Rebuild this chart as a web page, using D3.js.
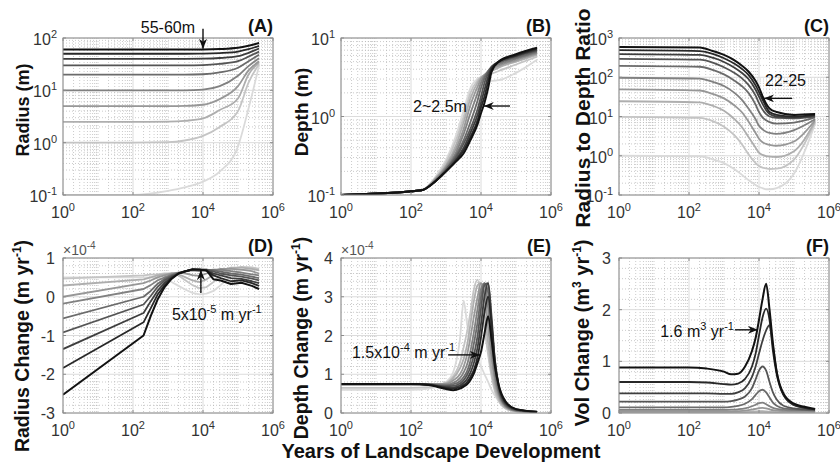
<!DOCTYPE html>
<html>
<head>
<meta charset="utf-8">
<script src="https://cdn.jsdelivr.net/npm/d3@7"></script>
<style>
  body { margin: 0; background: #fff; }
  text { font-family: "Liberation Sans", Arial, Helvetica, sans-serif; }
</style>
</head>
<body>
<svg id="chart" width="840" height="467"></svg>
<script>
// ---------------- data (series ordered from smallest initial radius to largest) ----------------
var radii = [0.1, 1, 2.5, 5, 10, 20, 30, 40, 50, 60];

// (A) radius, m
var yearsA = [1, 100, 1000, 3000, 10000, 30000, 100000, 200000, 400000];
var radiusA = [
  [0.1, 0.1, 0.12, 0.14, 0.18, 0.28, 0.85, 4.5, 30],
  [1, 1, 1.02, 1.1, 1.35, 2, 4, 14, 32],
  [2.5, 2.5, 2.52, 2.6, 2.9, 4.2, 7, 20, 34],
  [5, 5, 5, 5.05, 5.3, 6.8, 12, 24, 36],
  [10, 10, 10, 10, 10.3, 12, 19, 29, 41],
  [20, 20, 20, 20, 20.3, 22, 27, 36, 48],
  [30, 30, 30, 30, 30.3, 32, 36, 44, 55],
  [40, 40, 40, 40, 40.3, 41.5, 45, 52, 63],
  [50, 50, 50, 50, 50.3, 51.5, 55, 61, 71],
  [60, 60, 60, 60, 60.3, 61.5, 65, 71, 80]
];

// (B) depth, m
var yearsB = [1, 200, 500, 1000, 2000, 3200, 5000, 8000, 10000, 12600, 16000, 20000, 32000, 100000, 400000];
var depthB = [
  [0.1, 0.115, 0.17, 0.28, 0.6, 1.2, 2.3, 3.0, 3.1, 3.0, 2.9, 2.85, 2.9, 3.6, 5.3],
  [0.1, 0.115, 0.165, 0.26, 0.52, 1.0, 2.0, 2.9, 3.2, 3.3, 3.4, 3.5, 3.8, 4.6, 5.8],
  [0.1, 0.115, 0.16, 0.24, 0.45, 0.85, 1.7, 2.7, 3.1, 3.4, 3.6, 3.8, 4.2, 5.0, 6.1],
  [0.1, 0.115, 0.16, 0.23, 0.4, 0.7, 1.4, 2.4, 3.0, 3.4, 3.7, 4.0, 4.4, 5.2, 6.3],
  [0.1, 0.115, 0.155, 0.22, 0.36, 0.6, 1.1, 2.0, 2.7, 3.3, 3.8, 4.2, 4.6, 5.4, 6.5],
  [0.1, 0.115, 0.15, 0.21, 0.33, 0.5, 0.85, 1.6, 2.3, 3.1, 3.8, 4.3, 4.8, 5.6, 6.7],
  [0.1, 0.115, 0.15, 0.21, 0.31, 0.45, 0.7, 1.25, 1.8, 2.7, 3.6, 4.3, 4.9, 5.8, 6.9],
  [0.1, 0.115, 0.15, 0.2, 0.29, 0.4, 0.62, 1.05, 1.5, 2.2, 3.2, 4.2, 5.0, 5.9, 7.1],
  [0.1, 0.115, 0.15, 0.2, 0.28, 0.37, 0.55, 0.9, 1.3, 1.8, 2.8, 4.0, 5.0, 6.0, 7.3],
  [0.1, 0.115, 0.15, 0.2, 0.27, 0.34, 0.5, 0.8, 1.1, 1.5, 2.3, 3.7, 5.0, 6.2, 7.5]
];

// (C) radius to depth ratio
var yearsC = [1, 200, 500, 1000, 2000, 3200, 5000, 8000, 10000, 12600, 16000, 20000, 32000, 100000, 400000];
var ratioC = [
  [1.0, 0.97, 0.8, 0.65, 0.45, 0.33, 0.24, 0.18, 0.16, 0.15, 0.14, 0.14, 0.15, 0.35, 6.5],
  [9.8, 9.2, 7.5, 5.5, 3.3, 2.0, 1.1, 0.65, 0.55, 0.5, 0.48, 0.46, 0.47, 0.8, 7],
  [24.5, 23, 18.5, 14, 8.5, 5.5, 3.0, 1.6, 1.2, 1.05, 0.98, 0.95, 0.93, 1.3, 7.5],
  [49, 46, 37, 29, 19, 13, 7.5, 3.8, 2.7, 2.2, 2.0, 1.9, 1.8, 2.3, 8],
  [97, 92, 75, 60, 40, 27, 16, 8.5, 5.8, 4.7, 4.1, 3.8, 3.6, 4.5, 8.5],
  [195, 185, 152, 118, 82, 60, 40, 20, 13, 9.5, 8, 7.2, 6.6, 7, 9.5],
  [295, 280, 232, 180, 128, 95, 64, 34, 22, 15, 11.5, 10, 9.2, 9, 10],
  [390, 370, 310, 245, 175, 130, 90, 48, 32, 21, 14.5, 11.5, 10, 9.5, 10.5],
  [490, 465, 390, 305, 220, 165, 115, 62, 42, 27, 17.5, 13, 11, 10, 11],
  [590, 570, 460, 370, 270, 200, 140, 80, 55, 33, 21, 16, 13, 11, 11.5]
];

// (D) radius change, x 1e-4 m/yr
var yearsD = [1, 200, 320, 500, 800, 1260, 2000, 3200, 5000, 8000, 12600, 20000, 32000, 63000, 126000, 250000, 400000];
var radiusRateD = [
  [0.5, 0.5, 0.5, 0.48, 0.45, 0.38, 0.28, 0.18, 0.1, 0.06, 0.08, 0.15, 0.3, 0.55, 0.68, 0.72, 0.72],
  [0.47, 0.55, 0.57, 0.58, 0.6, 0.6, 0.55, 0.42, 0.3, 0.22, 0.25, 0.38, 0.55, 0.72, 0.77, 0.76, 0.72],
  [0.29, 0.45, 0.5, 0.55, 0.58, 0.6, 0.58, 0.5, 0.42, 0.38, 0.45, 0.57, 0.68, 0.75, 0.75, 0.72, 0.68],
  [0.0, 0.35, 0.42, 0.5, 0.55, 0.6, 0.62, 0.6, 0.56, 0.54, 0.6, 0.67, 0.72, 0.72, 0.7, 0.66, 0.6],
  [-0.18, 0.2, 0.3, 0.42, 0.5, 0.57, 0.62, 0.66, 0.68, 0.66, 0.68, 0.7, 0.7, 0.66, 0.62, 0.58, 0.55],
  [-0.56, 0.0, 0.15, 0.33, 0.46, 0.55, 0.61, 0.66, 0.7, 0.7, 0.7, 0.68, 0.65, 0.6, 0.57, 0.52, 0.48],
  [-0.92, -0.2, 0.02, 0.25, 0.42, 0.53, 0.6, 0.66, 0.7, 0.7, 0.7, 0.65, 0.6, 0.55, 0.52, 0.47, 0.42],
  [-1.35, -0.42, -0.12, 0.15, 0.36, 0.5, 0.6, 0.66, 0.7, 0.7, 0.68, 0.6, 0.55, 0.48, 0.46, 0.4, 0.35],
  [-1.84, -0.66, -0.3, 0.05, 0.3, 0.48, 0.6, 0.66, 0.7, 0.7, 0.68, 0.55, 0.48, 0.4, 0.42, 0.35, 0.28],
  [-2.53, -1.0, -0.5, -0.08, 0.25, 0.46, 0.6, 0.66, 0.71, 0.7, 0.68, 0.45, 0.42, 0.33, 0.36, 0.28, 0.2]
];

// (E) depth change, x 1e-4 m/yr
var yearsE = [1, 100, 320, 1000, 1600, 2500, 3200, 4000, 5000, 6300, 8000, 10000, 12600, 16000, 20000, 25000, 32000, 50000, 100000, 400000];
var depthRateE = [
  [0.6, 0.6, 0.63, 0.8, 1.05, 1.9, 2.9, 2.3, 1.85, 1.6, 1.4, 1.2, 1.0, 0.8, 0.6, 0.45, 0.3, 0.12, 0.04, 0.02],
  [0.65, 0.65, 0.67, 0.78, 0.95, 1.3, 1.7, 2.1, 2.6, 3.2, 3.44, 2.9, 2.2, 1.5, 0.95, 0.55, 0.32, 0.12, 0.04, 0.02],
  [0.72, 0.72, 0.73, 0.77, 0.9, 1.15, 1.4, 1.75, 2.3, 2.9, 3.3, 3.35, 2.6, 1.8, 1.1, 0.65, 0.38, 0.14, 0.05, 0.02],
  [0.74, 0.74, 0.74, 0.75, 0.84, 1.0, 1.2, 1.5, 1.95, 2.5, 3.0, 3.35, 3.1, 2.2, 1.4, 0.8, 0.45, 0.16, 0.05, 0.02],
  [0.75, 0.75, 0.75, 0.73, 0.78, 0.9, 1.05, 1.25, 1.6, 2.1, 2.7, 3.2, 3.35, 2.7, 1.7, 0.95, 0.52, 0.18, 0.06, 0.02],
  [0.75, 0.75, 0.74, 0.71, 0.74, 0.82, 0.93, 1.08, 1.35, 1.8, 2.35, 3.0, 3.35, 3.1, 2.0, 1.1, 0.58, 0.2, 0.07, 0.03],
  [0.75, 0.75, 0.74, 0.69, 0.7, 0.76, 0.85, 0.98, 1.18, 1.5, 2.0, 2.7, 3.3, 3.35, 2.3, 1.25, 0.65, 0.22, 0.08, 0.03],
  [0.75, 0.75, 0.73, 0.67, 0.66, 0.71, 0.78, 0.88, 1.04, 1.3, 1.7, 2.3, 3.0, 3.35, 2.5, 1.35, 0.7, 0.25, 0.09, 0.03],
  [0.75, 0.75, 0.73, 0.65, 0.63, 0.67, 0.72, 0.8, 0.93, 1.12, 1.45, 1.95, 2.6, 3.0, 2.3, 1.35, 0.72, 0.28, 0.1, 0.03],
  [0.75, 0.75, 0.72, 0.62, 0.59, 0.63, 0.68, 0.74, 0.85, 1.03, 1.3, 1.58, 2.05, 2.5, 1.9, 1.2, 0.72, 0.3, 0.1, 0.03]
];

// (F) volume change, m3/yr
var yearsF = [1, 100, 320, 1000, 1600, 2500, 4000, 6300, 8000, 10000, 12600, 16000, 20000, 25000, 32000, 50000, 100000, 200000, 400000];
var volRateF = [
  [0.001, 0.001, 0.001, 0.001, 0.001, 0.001, 0.002, 0.003, 0.003, 0.003, 0.003, 0.003, 0.002, 0.002, 0.002, 0.002, 0.002, 0.002, 0.002],
  [0.004, 0.004, 0.004, 0.004, 0.004, 0.005, 0.006, 0.008, 0.01, 0.012, 0.012, 0.011, 0.009, 0.007, 0.006, 0.005, 0.005, 0.005, 0.004],
  [0.012, 0.012, 0.012, 0.012, 0.013, 0.015, 0.018, 0.025, 0.03, 0.035, 0.036, 0.032, 0.026, 0.02, 0.017, 0.015, 0.014, 0.013, 0.012],
  [0.03, 0.03, 0.03, 0.03, 0.032, 0.036, 0.045, 0.065, 0.08, 0.095, 0.1, 0.09, 0.072, 0.055, 0.045, 0.038, 0.035, 0.033, 0.03],
  [0.06, 0.06, 0.06, 0.06, 0.064, 0.072, 0.09, 0.13, 0.16, 0.19, 0.2, 0.17, 0.13, 0.1, 0.08, 0.06, 0.05, 0.05, 0.045],
  [0.11, 0.11, 0.11, 0.11, 0.12, 0.14, 0.18, 0.27, 0.35, 0.42, 0.45, 0.4, 0.3, 0.2, 0.14, 0.09, 0.07, 0.06, 0.05],
  [0.22, 0.22, 0.22, 0.22, 0.23, 0.26, 0.32, 0.48, 0.65, 0.82, 0.9, 0.82, 0.6, 0.4, 0.26, 0.14, 0.09, 0.07, 0.06],
  [0.38, 0.38, 0.38, 0.37, 0.37, 0.4, 0.48, 0.7, 0.9, 1.15, 1.4, 1.6, 1.7, 1.3, 0.8, 0.35, 0.15, 0.1, 0.07],
  [0.6, 0.6, 0.59, 0.56, 0.55, 0.57, 0.66, 0.9, 1.15, 1.5, 1.85, 2.02, 1.8, 1.2, 0.75, 0.35, 0.16, 0.1, 0.07],
  [0.88, 0.88, 0.86, 0.8, 0.75, 0.76, 0.9, 1.2, 1.45, 1.8, 2.2, 2.5, 2.0, 1.35, 0.8, 0.38, 0.18, 0.12, 0.08]
];

// tick labels
var xTickYears = [1, 1e2, 1e4, 1e6];
var xTickExps = ["0", "2", "4", "6"];
var yTicksA = [0.1, 1, 10, 100], yExpsA = ["-1", "0", "1", "2"];
var yTicksB = [0.1, 1, 10], yExpsB = ["-1", "0", "1"];
var yTicksC = [0.1, 1, 10, 100, 1000], yExpsC = ["-1", "0", "1", "2", "3"];
var yTicksD = [-3, -2, -1, 0, 1];
var yTicksE = [0, 1, 2, 3, 4];
var yTicksF = [0, 1, 2, 3];

// ---------------- drawing ----------------
var svg = d3.select("#chart");
var plotW = 210;
var shade = d3.scaleLinear().domain([0, radii.length - 1]).range(["#dadada", "#121212"]);

var defs = svg.append("defs");
defs.append("marker")
    .attr("id", "head")
    .attr("markerUnits", "userSpaceOnUse")
    .attr("viewBox", "0 0 10 8")
    .attr("refX", 10).attr("refY", 4)
    .attr("markerWidth", 10).attr("markerHeight", 8)
    .attr("orient", "auto")
  .append("path")
    .attr("d", "M0,0 L10,4 L0,8 L3,4 Z")
    .attr("fill", "#111");

// adds "10" with a superscript exponent
function powText(sel, exp) {
    sel.append("tspan").text("10");
    sel.append("tspan").attr("dy", -7).attr("font-size", 11).text(exp);
}

function drawPanel(p) {
    var g = svg.append("g").attr("transform", "translate(" + p.left + "," + p.top + ")");
    var x = d3.scaleLog().domain([1, 1e6]).range([0, plotW]);
    var y = (p.log ? d3.scaleLog() : d3.scaleLinear()).domain(p.domain).range([p.h, 0]);

    g.append("rect").attr("width", plotW).attr("height", p.h).attr("fill", "#fff");

    // minor grid (dotted)
    var xMinor = x.ticks().filter(function(t){ return xTickYears.indexOf(t) < 0; });
    var yMinor = p.log
        ? y.ticks().filter(function(t){ return p.yTicks.indexOf(t) < 0; })
        : d3.range(p.domain[0], p.domain[1], 0.2).filter(function(t){ return Math.abs(t - Math.round(t)) > 1e-6; });
    g.selectAll("line.xmin").data(xMinor).enter().append("line")
        .attr("x1", function(d){ return x(d); }).attr("x2", function(d){ return x(d); })
        .attr("y1", 0).attr("y2", p.h)
        .attr("stroke", "#b5b5b5").attr("stroke-width", 0.7).attr("stroke-dasharray", "1,2");
    g.selectAll("line.ymin").data(yMinor).enter().append("line")
        .attr("y1", function(d){ return y(d); }).attr("y2", function(d){ return y(d); })
        .attr("x1", 0).attr("x2", plotW)
        .attr("stroke", "#b5b5b5").attr("stroke-width", 0.7).attr("stroke-dasharray", "1,2");

    // major grid
    g.selectAll("line.xmaj").data(xTickYears).enter().append("line")
        .attr("x1", function(d){ return x(d); }).attr("x2", function(d){ return x(d); })
        .attr("y1", 0).attr("y2", p.h)
        .attr("stroke", "#dcdcdc").attr("stroke-width", 1);
    g.selectAll("line.ymaj").data(p.yTicks).enter().append("line")
        .attr("y1", function(d){ return y(d); }).attr("y2", function(d){ return y(d); })
        .attr("x1", 0).attr("x2", plotW)
        .attr("stroke", "#dcdcdc").attr("stroke-width", 1);

    // series
    var clipId = "clip" + p.letter;
    defs.append("clipPath").attr("id", clipId)
        .append("rect").attr("width", plotW).attr("height", p.h);
    var line = d3.line()
        .x(function(d){ return x(d[0]); })
        .y(function(d){ return y(d[1]); })
        .curve(p.curve || d3.curveMonotoneX);
    g.append("g").attr("clip-path", "url(#" + clipId + ")")
        .selectAll("path").data(p.series).enter().append("path")
        .attr("d", function(vals){ return line(vals.map(function(v, j){ return [p.years[j], v]; })); })
        .attr("fill", "none")
        .attr("stroke", function(d, i){ return shade(i); })
        .attr("stroke-width", function(d, i){ return i === p.series.length - 1 ? 2 : 1.8; })
        .attr("stroke-linejoin", "round");

    // box and ticks
    g.append("rect").attr("width", plotW).attr("height", p.h)
        .attr("fill", "none").attr("stroke", "#8c8c8c").attr("stroke-width", 1);
    xTickYears.forEach(function(t){
        g.append("line").attr("x1", x(t)).attr("x2", x(t)).attr("y1", p.h).attr("y2", p.h - 3).attr("stroke", "#8c8c8c");
        g.append("line").attr("x1", x(t)).attr("x2", x(t)).attr("y1", 0).attr("y2", 3).attr("stroke", "#8c8c8c");
    });
    p.yTicks.forEach(function(t){
        g.append("line").attr("y1", y(t)).attr("y2", y(t)).attr("x1", 0).attr("x2", 3).attr("stroke", "#8c8c8c");
        g.append("line").attr("y1", y(t)).attr("y2", y(t)).attr("x1", plotW).attr("x2", plotW - 3).attr("stroke", "#8c8c8c");
    });

    // x tick labels
    xTickYears.forEach(function(t, i){
        var tx = g.append("text").attr("x", x(t)).attr("y", p.h + 23)
            .attr("text-anchor", "middle").attr("font-size", 16).attr("fill", "#333");
        powText(tx, xTickExps[i]);
    });
    // y tick labels
    p.yTicks.forEach(function(t, i){
        var ty = g.append("text").attr("text-anchor", "end").attr("font-size", 16).attr("fill", "#333");
        if (p.log) {
            ty.attr("x", -6).attr("y", y(t) + 7);
            powText(ty, p.yExps[i]);
        } else {
            ty.attr("x", -8).attr("y", y(t) + 6).text(t);
        }
    });

    if (p.multiplier) {
        var m = g.append("text").attr("x", 0).attr("y", -3).attr("font-size", 14).attr("fill", "#555");
        m.append("tspan").text("\u00d710");
        m.append("tspan").attr("dy", -6).attr("font-size", 10).text(p.multiplier);
    }

    // panel letter
    g.append("text").attr("x", plotW).attr("y", -6).attr("text-anchor", "end")
        .attr("font-size", 18).attr("font-weight", "bold").attr("fill", "#111")
        .text("(" + p.letter + ")");

    // y title
    var yt = g.append("text")
        .attr("transform", "translate(" + p.titleX + "," + p.titleY + ") rotate(-90)")
        .attr("text-anchor", "middle").attr("font-size", p.titleSize).attr("font-weight", "bold").attr("fill", "#111");
    p.title.forEach(function(part){
        var s = yt.append("tspan").text(part.t);
        if (part.sup) s.attr("dy", -8).attr("font-size", 12);
        if (part.down) s.attr("dy", 8);
    });

    // annotation arrow
    var a = p.arrow;
    var x1 = x(a.from[0]), y1 = y(a.from[1]), x2 = x(a.to[0]), y2 = y(a.to[1]);
    g.append("line").attr("x1", x1).attr("y1", y1).attr("x2", x2).attr("y2", y2)
        .attr("stroke", "#111").attr("stroke-width", 1.4).attr("marker-end", "url(#head)");
    var at = g.append("text").attr("x", x1 + a.dx).attr("y", y1 + a.dy)
        .attr("text-anchor", a.anchor).attr("font-size", 16).attr("fill", "#111");
    a.text.forEach(function(part){
        var s = at.append("tspan").text(part.t);
        if (part.sup) s.attr("dy", -7).attr("font-size", 11);
        if (part.down) s.attr("dy", 7);
    });
}

var panels = [
    { letter: "A", left: 63, top: 38, h: 157, log: true, domain: [0.1, 100], yTicks: yTicksA, yExps: yExpsA,
      years: yearsA, series: radiusA, titleX: -34, titleY: 72, titleSize: 18,
      title: [{t: "Radius (m)"}],
      arrow: { from: [1e4, 150], to: [1e4, 62], dx: -8, dy: 4, anchor: "end", text: [{t: "55-60m"}] } },
    { letter: "B", left: 341, top: 38, h: 157, log: true, domain: [0.1, 10], yTicks: yTicksB, yExps: yExpsB,
      years: yearsB, series: depthB, titleX: -33, titleY: 74, titleSize: 19,
      title: [{t: "Depth (m)"}],
      arrow: { from: [67000, 1.36], to: [12000, 1.36], dx: -43, dy: 6, anchor: "end", text: [{t: "2~2.5m"}] } },
    { letter: "C", left: 619, top: 38, h: 157, log: true, domain: [0.1, 1000], yTicks: yTicksC, yExps: yExpsC,
      years: yearsC, series: ratioC, titleX: -29, titleY: 80, titleSize: 21,
      title: [{t: "Radius to Depth Ratio"}],
      arrow: { from: [88000, 29], to: [14000, 29], dx: -27, dy: -12, anchor: "start", text: [{t: "22-25"}] } },
    { letter: "D", left: 63, top: 258, h: 155, log: false, domain: [-3, 1], yTicks: yTicksD, multiplier: "-4",
      years: yearsD, series: radiusRateD, titleX: -34, titleY: 88, titleSize: 19.5, curve: d3.curveLinear,
      title: [{t: "Radius Change (m yr"}, {t: "-1", sup: true}, {t: ")", down: true}],
      arrow: { from: [8700, 0.1], to: [8700, 0.69], dx: -29, dy: 27, anchor: "start",
               text: [{t: "5x10"}, {t: "-5", sup: true}, {t: " m yr", down: true}, {t: "-1", sup: true}] } },
    { letter: "E", left: 341, top: 258, h: 155, log: false, domain: [0, 4], yTicks: yTicksE, multiplier: "-4",
      years: yearsE, series: depthRateE, titleX: -33, titleY: 80, titleSize: 19.5,
      title: [{t: "Depth Change (m yr"}, {t: "-1", sup: true}, {t: ")", down: true}],
      arrow: { from: [1150, 1.5], to: [9300, 1.5], dx: 7, dy: 3, anchor: "end",
               text: [{t: "1.5x10"}, {t: "-4", sup: true}, {t: " m yr", down: true}, {t: "-1", sup: true}] } },
    { letter: "F", left: 619, top: 258, h: 155, log: false, domain: [0, 3], yTicks: yTicksF,
      years: yearsF, series: volRateF, titleX: -30, titleY: 75, titleSize: 20,
      title: [{t: "Vol Change (m"}, {t: "3", sup: true}, {t: " yr", down: true}, {t: "-1", sup: true}, {t: ")", down: true}],
      arrow: { from: [2050, 1.61], to: [9300, 1.61], dx: -1, dy: 7, anchor: "end",
               text: [{t: "1.6 m"}, {t: "3", sup: true}, {t: " yr", down: true}, {t: "-1", sup: true}] } }
];

panels.forEach(drawPanel);

// shared x title
svg.append("text").attr("x", 441).attr("y", 458).attr("text-anchor", "middle")
    .attr("font-size", 20).attr("font-weight", "bold").attr("fill", "#111")
    .text("Years of Landscape Development");
</script>
</body>
</html>
